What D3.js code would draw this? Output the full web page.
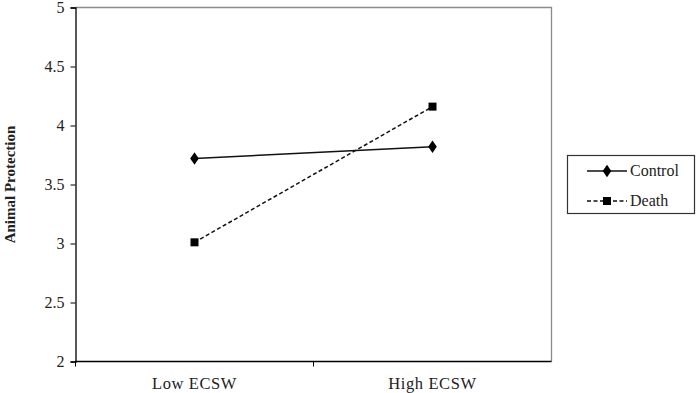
<!DOCTYPE html>
<html><head><meta charset="utf-8">
<script src="https://cdn.jsdelivr.net/npm/d3@7"></script>
<style>body{margin:0;background:#fff;font-family:"Liberation Serif",serif}svg{display:block}
text{font-family:"Liberation Serif","Times New Roman",serif}</style>
</head><body><svg id="c" width="697" height="393"></svg>
<script>
const categories = ["Low ECSW", "High ECSW"];
const seriesNames = ["Control", "Death"];
const controlValues = [3.72, 3.82];
const deathValues = [3.01, 4.16];
const yTicks = [2, 2.5, 3, 3.5, 4, 4.5, 5];
const yTitle = "Animal Protection";

const svg = d3.select("#c");
const m = {l: 75.5, r: 551.5, t: 7.5, b: 361.5};

const x = d3.scalePoint().domain(categories).range([m.l, m.r]).padding(0.5);
const y = d3.scaleLinear().domain([2, 5]).range([m.b, m.t]);

svg.append("path").attr("d", `M${m.l},${m.t}H${m.r}V${m.b}`).attr("fill","none").attr("stroke","#8c8c8c").attr("stroke-width",1.3);

const ya = svg.append("g").attr("transform", `translate(${m.l},0)`)
  .call(d3.axisLeft(y).tickValues(yTicks).tickSize(5).tickPadding(6).tickFormat(d3.format("")));
ya.attr("font-family", null);
ya.select(".domain").attr("stroke","#000").attr("stroke-width",1.3);
ya.selectAll(".tick line").attr("stroke","#000");
ya.selectAll("text").attr("font-size",16).attr("fill","#222").attr("dy","0.34em");

const xa = svg.append("g").attr("transform", `translate(0,${m.b})`);
xa.append("line").attr("x1", m.l - 0.5).attr("x2", m.r).attr("stroke","#000").attr("stroke-width",1.5);
const step = x.step();
const bounds = categories.slice(1).map(c => x(c) - step/2);
xa.selectAll(".bt").data(bounds).enter().append("line")
  .attr("x1", d=>d).attr("x2", d=>d).attr("y1",0).attr("y2",5).attr("stroke","#000");
xa.append("line").attr("x1", m.l).attr("x2", m.l).attr("y1",0).attr("y2",5).attr("stroke","#000");
xa.selectAll(".lbl").data(categories).enter().append("text")
  .attr("x", d=>x(d)).attr("y", 27).attr("text-anchor","middle")
  .style("letter-spacing","0.6px").attr("font-size",16.5).attr("fill","#222").text(d=>d);

svg.append("text").attr("transform", `translate(15,${(m.t+m.b)/2}) rotate(-90)`)
  .attr("text-anchor","middle").attr("font-size",15).attr("font-weight","bold").attr("fill","#222").text(yTitle);

const line = d3.line().x((d,i)=>x(categories[i])).y(d=>y(d));
const diamond = d3.symbol().type(d3.symbolDiamond).size(45);
const square = d3.symbol().type(d3.symbolSquare).size(64);

svg.append("path").datum(controlValues).attr("d", line).attr("fill","none").attr("stroke","#111").attr("stroke-width",1.5);
svg.selectAll(".cm").data(controlValues).enter().append("path")
  .attr("d", diamond)
  .attr("transform",(d,i)=>`translate(${x(categories[i])},${y(d)}) scale(1.2,1)`).attr("fill","#000");
svg.append("path").datum(deathValues).attr("d", line).attr("fill","none").attr("stroke","#111").attr("stroke-width",1.5).attr("stroke-dasharray","4,2.5");
svg.selectAll(".dm").data(deathValues).enter().append("path")
  .attr("d", square).attr("transform",(d,i)=>`translate(${x(categories[i])},${y(d)})`).attr("fill","#000");

const lg = svg.append("g");
lg.append("rect").attr("x",567.5).attr("y",155.5).attr("width",127).attr("height",58).attr("fill","#fff").attr("stroke","#333").attr("stroke-width",1.2);
const ly = [171, 201];
seriesNames.forEach((s,i)=>{
  lg.append("line").attr("x1",587).attr("x2",627).attr("y1",ly[i]).attr("y2",ly[i]).attr("stroke","#111").attr("stroke-width",1.5)
    .attr("stroke-dasharray", i===1 ? "4,2.5" : null);
  lg.append("path").attr("d", i===0 ? diamond() : square())
    .attr("transform", `translate(607,${ly[i]})` + (i===0 ? " scale(1.2,1)" : "")).attr("fill","#000");
  lg.append("text").attr("x",630).attr("y",ly[i]+5).attr("font-size",16).attr("fill","#222").text(s);
});
</script></body></html>
